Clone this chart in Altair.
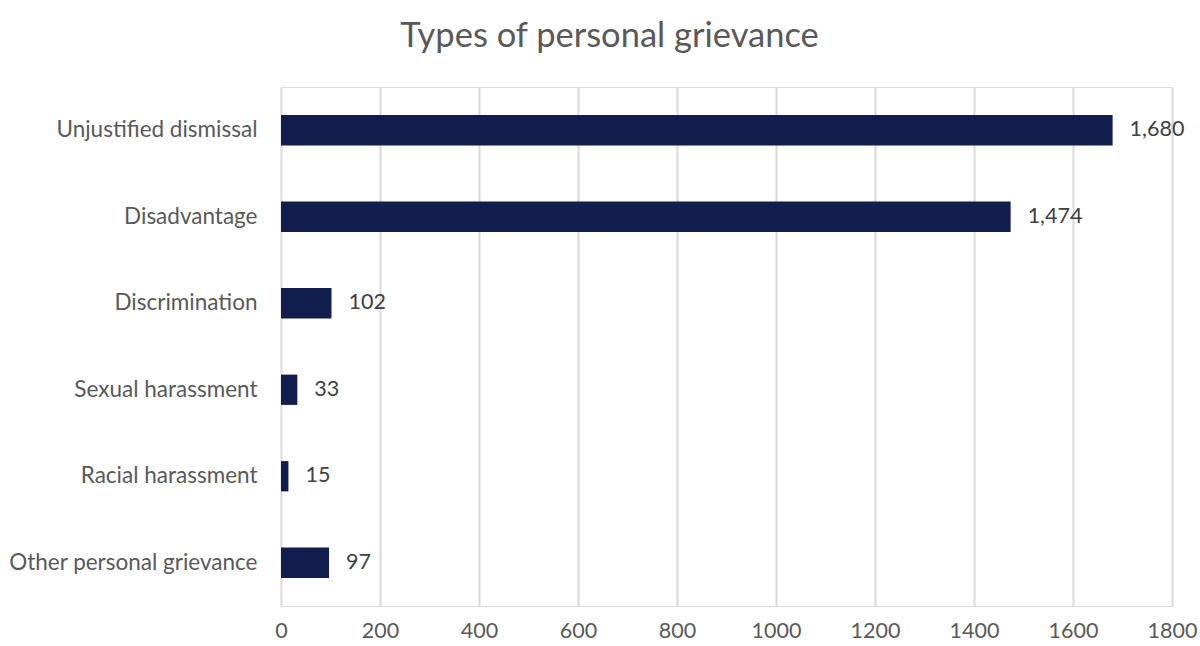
import altair as alt
import pandas as pd

categories = ["Unjustified dismissal", "Disadvantage", "Discrimination",
              "Sexual harassment", "Racial harassment", "Other personal grievance"]
values = [1680, 1474, 102, 33, 15, 97]
x_ticks = [0, 200, 400, 600, 800, 1000, 1200, 1400, 1600, 1800]

df = pd.DataFrame({"category": categories, "value": values})
df["label"] = df["value"].map(lambda v: f"{v:,}")

FONT = "Lato"

y_enc = alt.Y("category:N", sort=categories, title=None,
              scale=alt.Scale(paddingInner=0.65, paddingOuter=0.325),
              axis=alt.Axis(labelFontSize=22.5, labelColor="#595959", labelFont=FONT,
                            labelPadding=24, labelLimit=400, ticks=False, domain=False,
                            grid=False))
x_enc = alt.X("value:Q", title=None,
              scale=alt.Scale(domain=[0, 1800], nice=False),
              axis=alt.Axis(values=x_ticks, format="d", labelFontSize=21.5,
                            labelColor="#595959", labelFont=FONT, labelPadding=14,
                            labelFlush=False, labelOverlap=False,
                            ticks=False, domain=False, grid=True, gridColor="#d9d9d9",
                            gridWidth=2))

bars = alt.Chart(df).mark_bar(color="#101d4d").encode(x=x_enc, y=y_enc)
text = alt.Chart(df).mark_text(align="left", baseline="middle", dx=17, fontSize=21.5,
                               font=FONT, color="#404040").encode(
    x="value:Q", y=alt.Y("category:N", sort=categories), text="label:N")

chart = (bars + text).properties(
    width=891, height=519,
    title=alt.TitleParams("Types of personal grievance", fontSize=34.5, font=FONT,
                          fontWeight="normal", color="#595959", anchor="middle",
                          dx=-117, offset=33),
    autosize=alt.AutoSizeParams(type="none"),
    padding={"left": 281, "top": 87, "right": 28, "bottom": 40},
).configure_view(stroke=None).configure(background="white")

chart.save("out.html", embed_options={"renderer": "svg", "actions": False})
